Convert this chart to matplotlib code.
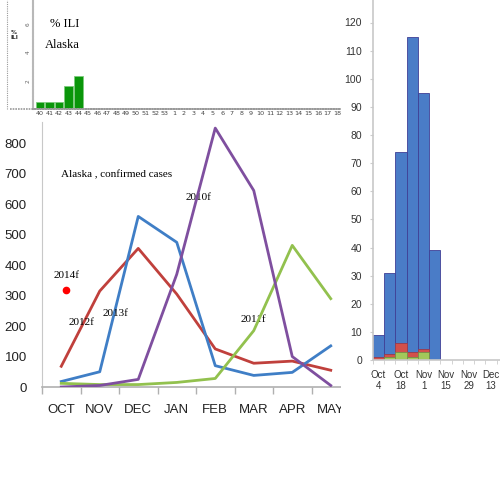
import matplotlib
matplotlib.use("Agg")
import matplotlib.pyplot as plt
import numpy as np
from matplotlib.patches import Rectangle
from matplotlib.lines import Line2D

# ---------------- data ----------------
months = ["OCT", "NOV", "DEC", "JAN", "FEB", "MAR", "APR", "MAY"]
s2010 = [0, 5, 25, 370, 850, 645, 100, 5]
s2011 = [12, 8, 8, 15, 28, 185, 465, 290]
s2012 = [68, 315, 455, 305, 125, 78, 85, 55]
s2013 = [18, 50, 560, 475, 70, 38, 48, 135]
s2014_oct = [320]

ili_weeks = [str(w) for w in list(range(40, 54)) + list(range(1, 19))]
ili_values = [0.5, 0.5, 0.5, 1.6, 2.3]

hist_weeks = ["Oct 4", "Oct 11", "Oct 18", "Oct 25", "Nov 1", "Nov 8",
              "Nov 15", "Nov 22", "Nov 29", "Dec 6", "Dec 13", "Dec 20"]
hist_total = [9, 31, 74, 115, 95, 39, 0, 0, 0, 0, 0, 0]
hist_green = [0, 1, 3, 1, 3, 0, 0, 0, 0, 0, 0, 0]
hist_red = [1, 1, 3, 2, 1, 0, 0, 0, 0, 0, 0, 0]
hist_tick_labels = ["Oct\n4", "Oct\n18", "Nov\n1", "Nov\n15", "Nov\n29", "Dec\n13"]

C_PURPLE = "#7F4F9F"
C_GREEN = "#92C14E"
C_RED = "#C0403C"
C_BLUE = "#3F7EC6"
GRAY = "#B0B0B0"

fig = plt.figure(figsize=(5, 5), dpi=100)
fig.patch.set_facecolor("white")

# ---------------- main line chart ----------------
ax = fig.add_axes([0.084, 0.226, 0.616, 0.53])
x = np.arange(len(months))
ax.plot(x, s2012, color=C_RED, lw=2.0, zorder=3)
ax.plot(x, s2013, color=C_BLUE, lw=2.0, zorder=3)
ax.plot(x, s2011, color=C_GREEN, lw=2.0, zorder=4)
ax.plot(x, s2010, color=C_PURPLE, lw=2.0, zorder=5)
ax.plot([0.12], s2014_oct, "o", color="#FF0000", ms=4.5, zorder=6)

ax.set_xlim(-0.5, 7.5)
ax.set_ylim(0, 870)
ax.set_yticks(range(0, 801, 100))
ax.set_xticks(x)
ax.set_xticklabels(months)
ax.set_xticks(np.arange(-0.5, 7.6, 1), minor=True)
ax.tick_params(axis="x", which="major", length=0, pad=12, labelsize=9.5, colors="#222222")
ax.tick_params(axis="x", which="minor", length=5, color=GRAY, width=1)
ax.tick_params(axis="y", length=0, pad=11, labelsize=9.5, colors="#222222")
for lab in ax.get_xticklabels() + ax.get_yticklabels():
    lab.set_fontfamily("Liberation Sans")
for sp in ["top", "right"]:
    ax.spines[sp].set_visible(False)
ax.spines["left"].set_color("#C8C8C8")
ax.spines["left"].set_linestyle((0, (1, 1)))
ax.spines["bottom"].set_color(GRAY)
ax.spines["bottom"].set_linewidth(1.2)

serif = dict(family="Liberation Serif", fontsize=8, color="black")
ax.text(0.0, 698, "Alaska , confirmed cases", ha="left", va="center", **serif)
ax.text(3.56, 623, "2010f", ha="center", va="center", **serif)
ax.text(0.13, 367, "2014f", ha="center", va="center", **serif)
ax.text(0.52, 213, "2012f", ha="center", va="center", **serif)
ax.text(1.4, 240, "2013f", ha="center", va="center", **serif)
ax.text(5.0, 223, "2011f", ha="center", va="center", **serif)

# ---------------- top ILI inset ----------------
ai = fig.add_axes([0.066, 0.782, 0.614, 0.218])
xi = np.arange(len(ili_weeks))
ai.bar(xi[:len(ili_values)], ili_values, width=0.9, color="#0A960A",
       edgecolor="#7CCB7C", linewidth=0.6)
ai.set_xlim(-0.73, 31.3)
ai.set_ylim(0, 7.7)
ai.set_xticks(xi)
ai.set_xticklabels(ili_weeks, fontsize=4.6, color="#444444")
ai.set_yticks([2, 4, 6])
ai.set_yticklabels(["2", "4", "6"], fontsize=4.2, rotation=90, color="#666666", va="center")
ai.tick_params(axis="both", length=0, pad=1.5)
for sp in ["top", "right"]:
    ai.spines[sp].set_visible(False)
ai.spines["left"].set_color("#B8B8B8")
ai.spines["left"].set_linewidth(1.5)
ai.spines["left"].set_linestyle((0, (1, 0.6)))
ai.spines["bottom"].set_color("#999999")
ai.spines["bottom"].set_linewidth(1.2)
ai.spines["bottom"].set_linestyle((0, (1, 0.6)))
ai.patch.set_alpha(0)
ai.text(1.0, 6.0, "% ILI", family="Liberation Serif", fontsize=9, ha="left", va="center")
ai.text(0.5, 4.5, "Alaska", family="Liberation Serif", fontsize=9, ha="left", va="center")
fig.text(0.028, 0.93, "%\nILI", fontsize=4.2, fontweight="bold", ha="center", va="center",
         linespacing=1.2, color="#333333")
fig.add_artist(Line2D([0.014, 0.014], [0.782, 1.0], color="#999999", lw=0.8,
                      linestyle=(0, (1, 1))))
fig.add_artist(Line2D([0.02, 0.066], [0.782, 0.782], color="#999999", lw=1.2,
                      linestyle=(0, (1, 0.6))))

# ---------------- right histogram ----------------
ah = fig.add_axes([0.746, 0.28, 0.254, 0.72])
xh = np.arange(len(hist_weeks))
g = np.array(hist_green)
r = np.array(hist_red)
b = np.array(hist_total) - g - r
ah.bar(xh, b, bottom=g + r, width=1.0, color="#4A7CC7", edgecolor="#3F3F96", linewidth=0.6)
ah.bar(xh, r, bottom=g, width=1.0, color="#D2504B", edgecolor="#9A3A48", linewidth=0.5)
ah.bar(xh, g, width=1.0, color="#A2C85A", edgecolor="#6E8A40", linewidth=0.5)
ah.set_xlim(-0.5, 10.79)
ah.set_ylim(0, 128)
ah.set_yticks(range(0, 121, 10))
ah.set_xticks(xh[::2])
ah.set_xticklabels(hist_tick_labels)
ah.set_xticks(np.arange(-0.5, 11, 1), minor=True)
ah.tick_params(axis="y", length=2, color="#CCCCCC", pad=6, labelsize=7.5, labelcolor="#333333")
ah.tick_params(axis="x", which="major", length=0, pad=7, labelsize=7, labelcolor="#333333")
ah.tick_params(axis="x", which="minor", length=3, color="#CCCCCC")
for lab in ah.get_xticklabels() + ah.get_yticklabels():
    lab.set_fontfamily("Liberation Sans")
for sp in ["top", "right"]:
    ah.spines[sp].set_visible(False)
ah.spines["left"].set_color("#C8C8C8")
ah.spines["left"].set_linewidth(1.2)
ah.spines["bottom"].set_color("#C8C8C8")
ah.spines["bottom"].set_linewidth(1.2)

# crop main chart at right edge like the reference composite
fig.add_artist(Rectangle((0.681, 0.15), 0.062, 0.1, transform=fig.transFigure,
                         facecolor="white", edgecolor="none", zorder=10))

fig.savefig("out.png", dpi=100, facecolor="white")
